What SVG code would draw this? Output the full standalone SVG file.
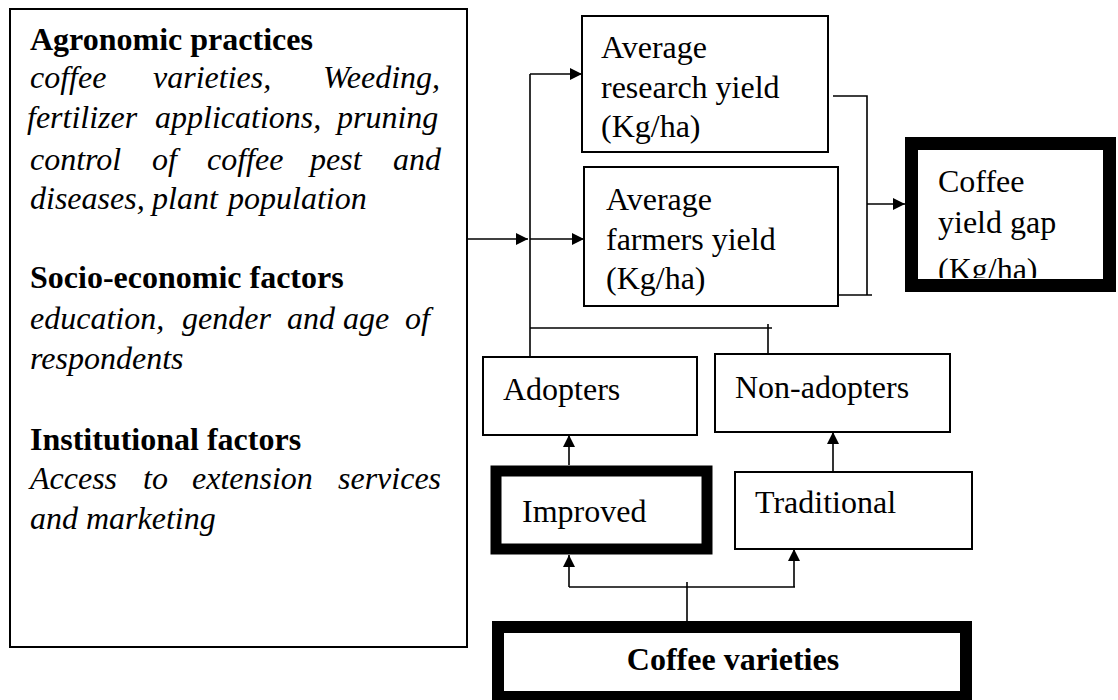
<svg xmlns="http://www.w3.org/2000/svg" width="1118" height="700" viewBox="0 0 1118 700">
<style>
.b{fill:#fff;stroke:#000;stroke-width:2}
.t{fill:none;stroke:#000;stroke-width:13}
.l{fill:none;stroke:#000;stroke-width:1.6}
text{font-family:'Liberation Serif','Times New Roman','DejaVu Serif',serif;font-size:32px;fill:#000}
.bd{font-weight:bold}
.it{font-style:italic}
</style>
<defs>
<marker id="a" viewBox="0 0 10 10" refX="10" refY="5" markerWidth="12" markerHeight="12" markerUnits="userSpaceOnUse" orient="auto">
<path d="M0,0 L10,5 L0,10 z" fill="#000"/>
</marker>
<clipPath id="gc"><rect x="918" y="150" width="190" height="128"/></clipPath>
</defs>
<rect width="1118" height="700" fill="#fff"/>

<g id="factors">
<rect class="b" x="10" y="9" width="457" height="638"/>
<text class="bd" x="30" y="50">Agronomic practices</text>
<text class="it" y="88"><tspan x="30">coffee</tspan><tspan x="153">varieties,</tspan><tspan x="323">Weeding,</tspan></text>
<text class="it" y="128"><tspan x="27">fertilizer</tspan><tspan x="155">applications,</tspan><tspan x="337">pruning</tspan></text>
<text class="it" y="170"><tspan x="30">control</tspan><tspan x="152">of</tspan><tspan x="207">coffee</tspan><tspan x="310">pest</tspan><tspan x="393">and</tspan></text>
<text class="it" y="209"><tspan x="30">diseases,</tspan><tspan x="152">plant</tspan><tspan x="228">population</tspan></text>
<text class="bd" x="30" y="288">Socio-economic factors</text>
<text class="it" y="329"><tspan x="30">education,</tspan><tspan x="182">gender</tspan><tspan x="287">and</tspan><tspan x="343">age</tspan><tspan x="405">of</tspan></text>
<text class="it" x="30" y="369">respondents</text>
<text class="bd" x="30" y="450">Institutional factors</text>
<text class="it" y="489"><tspan x="30">Access</tspan><tspan x="143">to</tspan><tspan x="192">extension</tspan><tspan x="338">services</tspan></text>
<text class="it" x="30" y="529">and marketing</text>
</g>

<g id="research">
<rect class="b" x="582" y="16" width="246" height="136"/>
<text x="601" y="58">Average</text>
<text x="601" y="98">research yield</text>
<text x="601" y="137">(Kg/ha)</text>
</g>

<g id="farmers">
<rect class="b" x="584" y="167" width="254" height="139"/>
<text x="606" y="210">Average</text>
<text x="606" y="250">farmers yield</text>
<text x="606" y="289">(Kg/ha)</text>
</g>

<g id="gap">
<rect class="t" x="911.5" y="143.5" width="198" height="142"/>
<g clip-path="url(#gc)">
<text x="938" y="192">Coffee</text>
<text x="938" y="233">yield gap</text>
<text x="938" y="280">(Kg/ha)</text>
</g>
</g>

<g id="adopters">
<rect class="b" x="483" y="357" width="214" height="78"/>
<text x="503" y="400">Adopters</text>
</g>

<g id="nonadopters">
<rect class="b" x="715" y="354" width="235" height="78"/>
<text x="735" y="398">Non-adopters</text>
</g>

<g id="improved">
<rect class="b" x="496" y="471" width="211" height="78" style="stroke-width:11"/>
<text x="522" y="522">Improved</text>
</g>

<g id="traditional">
<rect class="b" x="735" y="472" width="237" height="77"/>
<text x="755" y="513">Traditional</text>
</g>

<g id="varieties">
<rect class="b" x="498" y="627" width="468" height="70" style="stroke-width:12"/>
<text class="bd" x="733" y="670" text-anchor="middle">Coffee varieties</text>
</g>

<g id="connectors">
<path class="l" d="M467,239 H528" marker-end="url(#a)"/>
<path class="l" d="M530,74 V357"/>
<path class="l" d="M530,74 H582" marker-end="url(#a)"/>
<path class="l" d="M530,239 H584" marker-end="url(#a)"/>
<path class="l" d="M833,96 H867 V295"/>
<path class="l" d="M838,295 H872"/>
<path class="l" d="M867,204 H905" marker-end="url(#a)"/>
<path class="l" d="M530,328 H772"/>
<path class="l" d="M768,324 V354"/>
<path class="l" d="M569,465 V435" marker-end="url(#a)"/>
<path class="l" d="M833,472 V432" marker-end="url(#a)"/>
<path class="l" d="M687,621 V582"/>
<path class="l" d="M569,587 H795"/>
<path class="l" d="M569,587 V555" marker-end="url(#a)"/>
<path class="l" d="M794,587 V549" marker-end="url(#a)"/>
</g>
</svg>
